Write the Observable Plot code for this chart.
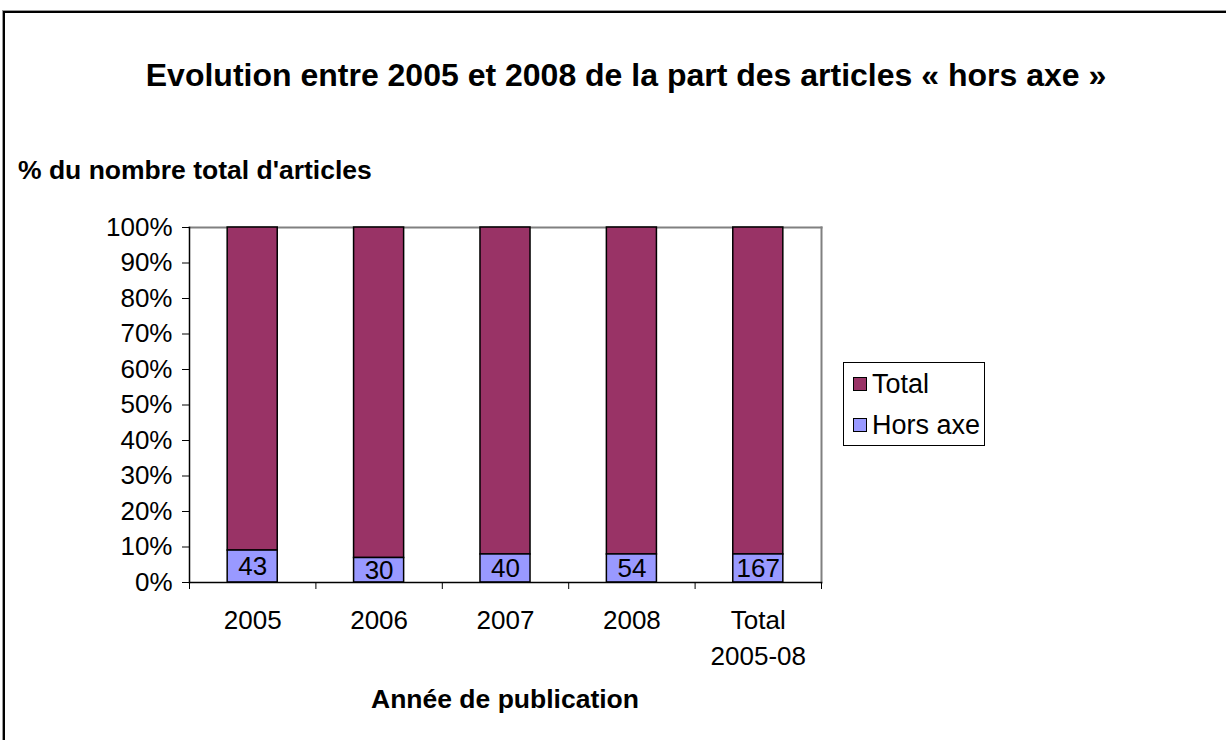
<!DOCTYPE html>
<html>
<head>
<meta charset="utf-8">
<script src="https://cdn.jsdelivr.net/npm/d3@7"></script>
<script src="https://cdn.jsdelivr.net/npm/@observablehq/plot@0.6"></script>
<style>
  html, body { margin: 0; padding: 0; background: #fff; width: 1226px; height: 740px; overflow: hidden; }
  body { position: relative; font-family: "Liberation Sans", Arial, sans-serif; color: #000; }
  #frame { position: absolute; left: 3px; top: 11px; width: 1240px; height: 760px; border-top: 2px solid #000; border-left: 2px solid #000; box-shadow: -1px -1px 0 #999; }
  #title { position: absolute; left: 0; width: 1252px; top: 56px; text-align: center; font-weight: bold; font-size: 32px; line-height: 38px; }
  #ylabel { position: absolute; left: 18px; top: 155px; font-weight: bold; font-size: 26.5px; line-height: 30px; }
  #xlabel { position: absolute; left: 189px; width: 632px; top: 684px; text-align: center; font-weight: bold; font-size: 26.5px; line-height: 30px; }
  #chart { position: absolute; left: 0; top: 0; }
  #legend { position: absolute; left: 843px; top: 362px; width: 142px; height: 84px; border: 1px solid #000; box-sizing: border-box; font-size: 27px; }
  .item { position: absolute; left: 9px; display: flex; align-items: center; line-height: 30px; }
  .sw { width: 12px; height: 12px; border: 1px solid #000; margin-right: 5px; }
</style>
</head>
<body>
<div id="frame"></div>
<div id="title">Evolution entre 2005 et 2008 de la part des articles « hors axe »</div>
<div id="ylabel">% du nombre total d'articles</div>
<div id="chart"></div>
<div id="xlabel">Année de publication</div>
<div id="legend"></div>
<script>
// Data
const categories = ["2005", "2006", "2007", "2008", "Total\n2005-08"];
const horsAxeCounts = [43, 30, 40, 54, 167];
const horsAxePct = [9.0, 6.9, 7.9, 7.9, 7.9];
const seriesNames = ["Total", "Hors axe"];
const seriesColors = ["#993366", "#9999FF"];
const yTicks = [0, 10, 20, 30, 40, 50, 60, 70, 80, 90, 100];

const rows = categories.map((c, i) => ({i, cat: c, count: horsAxeCounts[i], pct: horsAxePct[i]}));
const centers = categories.map((_, i) => i);
const boundaries = [...categories.map((_, i) => i - 0.5), categories.length - 0.5];
const half = 0.198;

const chart = Plot.plot({
  width: 1226,
  height: 740,
  marginLeft: 189,
  marginRight: 405,
  marginTop: 227,
  marginBottom: 158,
  style: {fontFamily: '"Liberation Sans", Arial, sans-serif', fontSize: "26px", color: "#000", background: "transparent"},
  x: {type: "linear", domain: [-0.5, categories.length - 0.5]},
  y: {domain: [0, 100]},
  marks: [
    Plot.frame({anchor: "top", stroke: "#808080", strokeWidth: 2}),
    Plot.frame({anchor: "right", stroke: "#808080", strokeWidth: 2}),
    // Total (remaining share)
    Plot.rectY(rows, {x1: d => d.i - half, x2: d => d.i + half, y1: d => d.pct, y2: 100, fill: seriesColors[0], stroke: "#000", strokeWidth: 1.5}),
    // Hors axe
    Plot.rectY(rows, {x1: d => d.i - half, x2: d => d.i + half, y1: 0, y2: d => d.pct, fill: seriesColors[1], stroke: "#000", strokeWidth: 1.5}),
    Plot.text(rows, {x: "i", y: d => d.pct / 2, text: d => String(d.count), fontSize: 26, fill: "#000"}),
    Plot.axisY(yTicks, {tickSize: 7, tickPadding: 10, tickFormat: d => d + "%", fontSize: 26, label: null, stroke: "#000"}),
    Plot.axisX(boundaries, {tickSize: 7, tickFormat: () => "", label: null, stroke: "#000"}),
    Plot.axisX(centers, {tickSize: 0, tickPadding: 22, tickFormat: i => categories[i], fontSize: 26, lineHeight: 1.35, label: null}),
    Plot.frame({anchor: "left", stroke: "#000", strokeWidth: 1.5}),
    Plot.frame({anchor: "bottom", stroke: "#000", strokeWidth: 1.5})
  ]
});
document.getElementById("chart").appendChild(chart);

// Legend (Total first, as in the reference)
const legend = document.getElementById("legend");
seriesNames.forEach((name, k) => {
  const it = document.createElement("div");
  it.className = "item";
  it.style.top = (k === 0 ? 6 : 47) + "px";
  const sw = document.createElement("span");
  sw.className = "sw";
  sw.style.background = seriesColors[k];
  const lab = document.createElement("span");
  lab.textContent = name;
  it.appendChild(sw);
  it.appendChild(lab);
  legend.appendChild(it);
});
</script>
</body>
</html>
